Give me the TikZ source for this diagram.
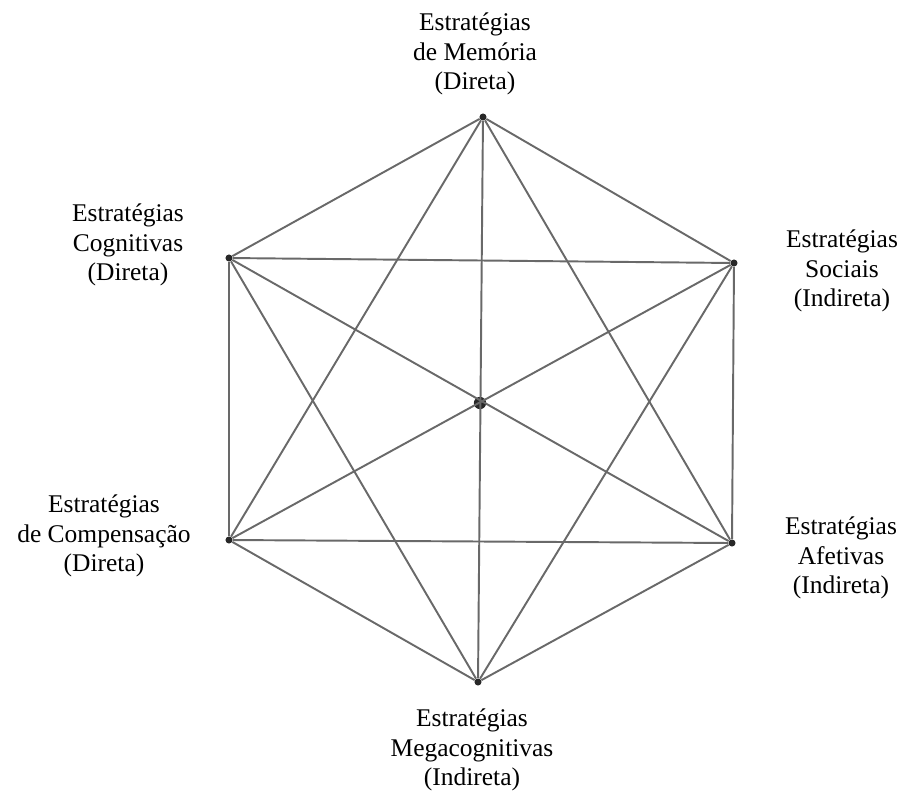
\documentclass[tikz,border=0pt]{standalone}
\usepackage{fontspec}
\setmainfont{Liberation Serif}
\newfontfamily\lblfont{Liberation Serif}
\usepackage{tikz}
\usetikzlibrary{positioning}
\definecolor{edge}{RGB}{105,105,105}
\definecolor{vdot}{RGB}{40,40,40}

\begin{document}
\begin{tikzpicture}[
  x=0.02cm, y=-0.02cm,
  vert/.style={circle, fill=vdot, inner sep=0pt, minimum size=4pt},
  hub/.style={circle, fill=vdot, inner sep=0pt, minimum size=7pt},
  lbl/.style={align=center, inner sep=0pt, font=\lblfont\fontsize{14.5}{16.8}\selectfont},
  edgeline/.style={draw=edge, line width=1.1pt}
]
\useasboundingbox (0,0) rectangle (906,792);

% vertices of the hexagon
\node[vert] (mem) at (483,117) {};
\node[vert] (cog) at (229,258) {};
\node[vert] (soc) at (734,263) {};
\node[vert] (comp) at (229,540) {};
\node[vert] (afet) at (732,543) {};
\node[vert] (mega) at (478,682) {};
\node[hub] (c) at (480,403) {};

% labels
\node[lbl] (lmem) at (475,54) {Estratégias\\de Memória\\(Direta)};
\node[lbl] (lcog) at (128,245) {Estratégias\\Cognitivas\\(Direta)};
\node[lbl] (lsoc) at (842,271) {Estratégias\\Sociais\\(Indireta)};
\node[lbl] (lcomp) at (104,536) {Estratégias\\de Compensação\\(Direta)};
\node[lbl] (lafet) at (841,558) {Estratégias\\Afetivas\\(Indireta)};
\node[lbl] (lmega) at (472,750) {Estratégias\\Megacognitivas\\(Indireta)};

% outer hexagon
\draw[edgeline] (mem) -- (cog);
\draw[edgeline] (mem) -- (soc);
\draw[edgeline] (cog) -- (comp);
\draw[edgeline] (soc) -- (afet);
\draw[edgeline] (comp) -- (mega);
\draw[edgeline] (afet) -- (mega);
% horizontals
\draw[edgeline] (cog) -- (soc);
\draw[edgeline] (comp) -- (afet);
% star triangles
\draw[edgeline] (mem) -- (comp);
\draw[edgeline] (mem) -- (afet);
\draw[edgeline] (cog) -- (mega);
\draw[edgeline] (soc) -- (mega);
% diagonals through the hub
\draw[edgeline] (mem) -- (mega);
\draw[edgeline] (cog) -- (afet);
\draw[edgeline] (soc) -- (comp);
\end{tikzpicture}
\end{document}
